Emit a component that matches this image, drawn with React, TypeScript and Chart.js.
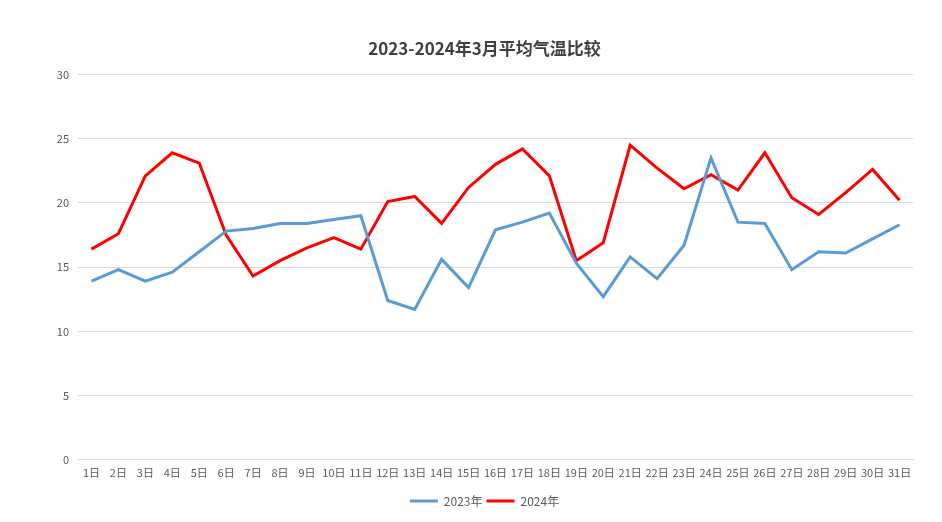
import React, { useEffect, useRef } from "react";
import { Chart, registerables } from "chart.js";

Chart.register(...registerables);

const days: string[] = Array.from({ length: 31 }, (_, i) => `${i + 1}日`);

const temps2023: number[] = [
  13.9, 14.8, 13.9, 14.6, 16.2, 17.8, 18.0, 18.4, 18.4, 18.7, 19.0,
  12.4, 11.7, 15.6, 13.4, 17.9, 18.5, 19.2, 15.3, 12.7, 15.8,
  14.1, 16.7, 23.5, 18.5, 18.4, 14.8, 16.2, 16.1, 17.2, 18.3,
];

const temps2024: number[] = [
  16.4, 17.6, 22.1, 23.9, 23.1, 17.5, 14.3, 15.5, 16.5, 17.3, 16.4,
  20.1, 20.5, 18.4, 21.2, 23.0, 24.2, 22.1, 15.5, 16.9, 24.5,
  22.7, 21.1, 22.2, 21.0, 23.9, 20.4, 19.1, 20.8, 22.6, 20.2,
];

const seriesNames: string[] = ["2023年", "2024年"];
const titleText = "2023-2024年3月平均气温比较";

export default function App() {
  const ref = useRef<HTMLCanvasElement | null>(null);

  useEffect(() => {
    if (!ref.current) return;
    const font = "'Microsoft YaHei', 'Noto Sans CJK SC', 'Noto Sans', sans-serif";
    const chart = new Chart(ref.current, {
      type: "line",
      data: {
        labels: days,
        datasets: [
          {
            label: seriesNames[0],
            data: temps2023,
            borderColor: "#5b9bd5",
            backgroundColor: "#5b9bd5",
            borderWidth: 3,
            pointRadius: 0,
            tension: 0,
          },
          {
            label: seriesNames[1],
            data: temps2024,
            borderColor: "#ff0000",
            backgroundColor: "#ff0000",
            borderWidth: 3,
            pointRadius: 0,
            tension: 0,
          },
        ],
      },
      options: {
        animation: false,
        responsive: true,
        maintainAspectRatio: false,
        layout: { padding: { left: 56, right: 29, top: 0, bottom: 5 } },
        plugins: {
          title: {
            display: true,
            text: titleText,
            color: "#404040",
            font: { family: font, size: 17, weight: "bold" },
            padding: { top: 38, bottom: 16 },
          },
          legend: {
            position: "bottom",
            labels: {
              color: "#595959",
              font: { family: font, size: 12 },
              usePointStyle: true,
              pointStyle: "line",
              pointStyleWidth: 28,
              boxHeight: 12,
              padding: 4,
            },
          },
          tooltip: { enabled: false },
        },
        scales: {
          x: {
            offset: true,
            grid: { display: false, drawTicks: false },
            border: { display: true, color: "#d9d9d9" },
            ticks: {
              color: "#595959",
              font: { family: font, size: 11 },
              maxRotation: 0,
              autoSkip: false,
              padding: 6,
            },
            afterFit: (scale: any) => {
              scale.height = scale.height + 6;
            },
          },
          y: {
            min: 0,
            max: 30,
            grid: { color: "#d9d9d9", drawTicks: false },
            border: { display: false },
            ticks: {
              stepSize: 5,
              color: "#595959",
              font: { family: font, size: 11 },
              padding: 9,
            },
            afterFit: (scale: any) => {
              scale.width = 22;
            },
          },
        },
      },
    });
    return () => chart.destroy();
  }, []);

  return (
    <div style={{ position: "fixed", left: 0, top: 0, width: 942, height: 522, background: "#fff" }}>
      <canvas ref={ref} />
    </div>
  );
}
